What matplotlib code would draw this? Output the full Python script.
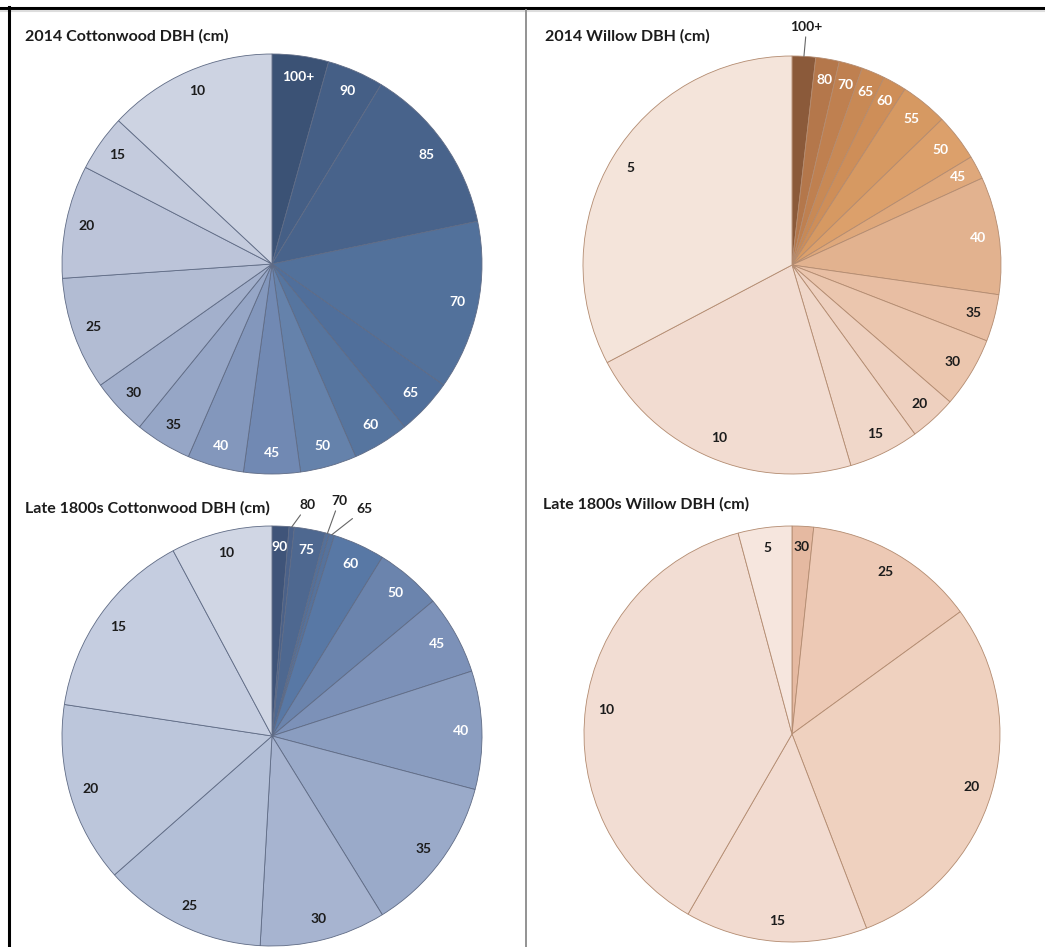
import matplotlib
matplotlib.use('Agg')
import matplotlib.pyplot as plt
from matplotlib.lines import Line2D
import numpy as np

plt.rcParams['font.family'] = ['Lato', 'DejaVu Sans']

W, H = 1045, 947
DARK = '#1c1c1c'

# == data (slice sizes, clockwise from 12 o'clock) =============================
cw14_labels = ['100+', '90', '85', '70', '65', '60', '50', '45', '40', '35', '30', '25', '20', '15', '10']
cw14_values = [1, 1, 3, 3, 1, 1, 1, 1, 1, 1, 1, 2, 2, 1, 3]

wl14_labels = ['100+', '80', '70', '65', '60', '55', '50', '45', '40', '35', '30', '20', '15', '10', '5']
wl14_values = [1, 1, 1, 1, 1, 2, 2, 1, 5, 2, 3, 2, 3, 12, 18]

cw18_labels = ['90', '80', '75', '70', '65', '60', '50', '45', '40', '35', '30', '25', '20', '15', '10']
cw18_values = [1.3, 0.4, 2.4, 0.3, 0.4, 4.0, 5.1, 6.1, 9.1, 12.1, 9.7, 12.6, 13.9, 14.8, 7.8]

wl18_labels = ['30', '25', '20', '15', '10', '5']
wl18_values = [2, 16, 35, 17, 45, 5]

# == colours ===================================================================
cw14_colors = ['#3b5275', '#455f86', '#48638b', '#52719b', '#506f9b', '#56759f',
               '#6582ab', '#7189b3', '#8397bc', '#96a6c6', '#a3b0cc', '#b2bcd3',
               '#bcc4d9', '#c4cbdd', '#cdd3e2']
cw14_text = ['white'] * 9 + [DARK] * 6

wl14_colors = ['#8b5a3a', '#b4774b', '#bf8050', '#c88955', '#ce8e58', '#d69962',
               '#dca06b', '#dfa87b', '#e2b28f', '#e8bea3', '#ebc6ae', '#eed0bf',
               '#f0d7c9', '#f2dcd1', '#f4e4da']
wl14_text = [DARK] + ['white'] * 8 + [DARK] * 6

cw18_colors = ['#3f5479', '#4a6189', '#4e6890', '#53709a', '#55729c', '#5878a5',
               '#6b84ad', '#7c91b8', '#8a9dc0', '#9aaac9', '#a7b4d0', '#b3bfd7',
               '#bcc6db', '#c5cde0', '#d0d6e4']
cw18_text = ['white'] * 9 + [DARK] * 6

wl18_colors = ['#e5b9a1', '#edc9b5', '#efd1bf', '#f2dbd0', '#f2ddd3', '#f6e6de']
wl18_text = [DARK] * 6


fig = plt.figure(figsize=(W / 100, H / 100), dpi=100)


def draw_pie(cx, cy, r, values, labels, colors, text_colors, edge, title, tx, ty,
             outside=None):
    ax = fig.add_axes([(cx - r) / W, 1 - (cy + r) / H, 2 * r / W, 2 * r / H])
    wedges, texts = ax.pie(values, labels=labels, colors=colors, startangle=90,
                           counterclock=False, labeldistance=0.9,
                           wedgeprops=dict(edgecolor=edge, linewidth=0.6),
                           textprops=dict(fontsize=10, fontweight='bold'))
    ax.set_xlim(-1, 1)
    ax.set_ylim(-1, 1)
    for t, c in zip(texts, text_colors):
        t.set_ha('center')
        t.set_color(c)
    if outside:
        for lab, (lx, ly) in outside.items():
            i = labels.index(lab)
            w = wedges[i]
            a = np.deg2rad((w.theta1 + w.theta2) / 2)
            texts[i].set_visible(False)
            ax.annotate(lab, (np.cos(a), np.sin(a)), xytext=(lx, ly),
                        ha='center', va='center', fontsize=10, fontweight='bold',
                        color=DARK, annotation_clip=False,
                        arrowprops=dict(arrowstyle='-', color='#666666', lw=0.8,
                                        shrinkA=1, shrinkB=0))
    fig.text(tx / W, 1 - ty / H, title, fontsize=11.5, fontweight='bold',
             color=DARK, ha='left', va='center')
    return ax


draw_pie(272, 264, 210, cw14_values, cw14_labels, cw14_colors, cw14_text,
         '#5f6b85', '2014 Cottonwood DBH (cm)', 25, 36)
draw_pie(792, 265, 209, wl14_values, wl14_labels, wl14_colors, wl14_text,
         '#b38b70', '2014 Willow DBH (cm)', 545, 36,
         outside={'100+': (0.07, 1.14)})
draw_pie(272, 736, 210, cw18_values, cw18_labels, cw18_colors, cw18_text,
         '#5f6b85', 'Late 1800s Cottonwood DBH (cm)', 25, 508,
         outside={'80': (0.17, 1.10), '70': (0.32, 1.12), '65': (0.44, 1.08)})
draw_pie(792, 734, 208, wl18_values, wl18_labels, wl18_colors, wl18_text,
         '#b38b70', 'Late 1800s Willow DBH (cm)', 543, 504)

# frame lines: black top/left border, grey divider
fig.add_artist(Line2D([0, 1], [1 - 8 / H, 1 - 8 / H], color='black', lw=2.2))
fig.add_artist(Line2D([0, 1], [1 - 11 / H, 1 - 11 / H], color='#dddddd', lw=1.5))
fig.add_artist(Line2D([9 / W, 9 / W], [0, 1 - 7 / H], color='black', lw=2.2))
fig.add_artist(Line2D([526 / W, 526 / W], [0, 1 - 10 / H], color='#8a8a8a', lw=1.3))

plt.savefig('out.png', dpi=100)
